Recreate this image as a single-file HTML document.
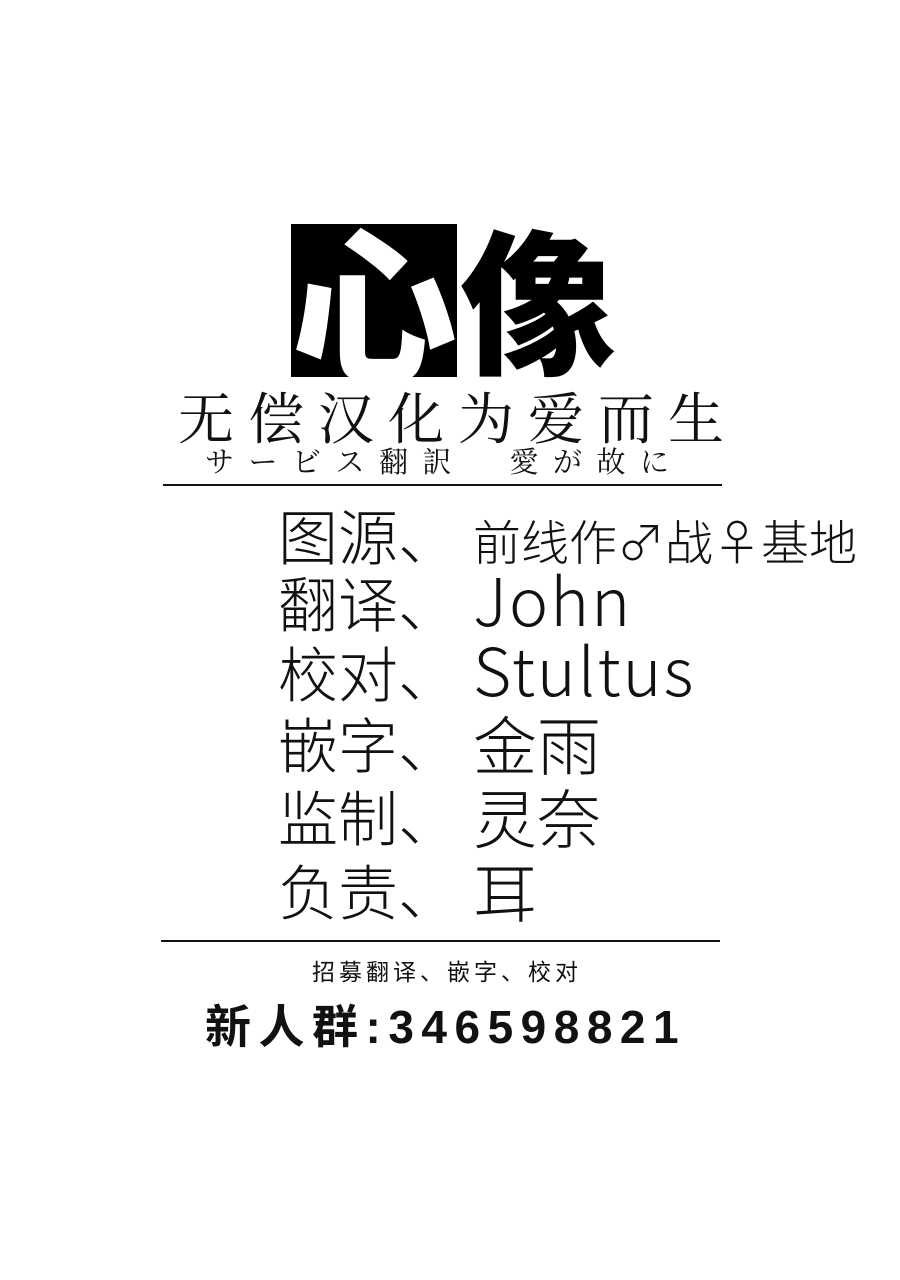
<!DOCTYPE html>
<html><head><meta charset="utf-8">
<style>
body{margin:0;width:900px;height:1280px;background:#fff;position:relative;overflow:hidden;font-family:"Liberation Sans","Noto Sans CJK SC",sans-serif;color:#111}
.a{position:absolute;white-space:nowrap;line-height:1}
.lab,.val{font-family:"Noto Sans CJK SC",sans-serif;font-weight:200;font-size:60px}
</style></head><body>
<div class="a" style="left:291px;top:224px;width:166px;height:153px;background:#000"></div>
<div class="a" style="left:291px;top:214px;font-family:'Noto Sans CJK SC',sans-serif;font-weight:900;font-size:166px;color:#fff;width:166px;height:163px;overflow:hidden">心</div>
<div class="a" style="left:460px;top:216px;font-family:'Noto Sans CJK SC',sans-serif;font-weight:900;font-size:156px;color:#000">像</div>
<div class="a" style="left:178px;top:388px;font-family:'Noto Serif CJK SC',serif;font-size:56px;letter-spacing:14px">无偿汉化为爱而生</div>
<div class="a" style="left:205px;top:446px;font-family:'Noto Serif CJK SC',serif;font-size:29px;letter-spacing:14.5px">サービス翻訳　愛が故に</div>
<div class="a" style="left:163px;top:484px;width:559px;height:2px;background:#111"></div>

<div class="a lab" style="left:278px;top:505px">图源、</div>
<div class="a val" style="left:473px;top:515px;font-size:48px">前线作♂战♀基地</div>
<div class="a lab" style="left:278px;top:572px">翻译、</div>
<div class="a val" style="left:473px;top:565px;font-size:66px;letter-spacing:2px">John</div>
<div class="a lab" style="left:278px;top:642px">校对、</div>
<div class="a val" style="left:473px;top:635px;font-size:66px;letter-spacing:2px">Stultus</div>
<div class="a lab" style="left:278px;top:713px">嵌字、</div>
<div class="a val" style="left:473px;top:711px;font-size:64px">金雨</div>
<div class="a lab" style="left:278px;top:786px">监制、</div>
<div class="a val" style="left:473px;top:784px;font-size:64px">灵奈</div>
<div class="a lab" style="left:278px;top:860px">负责、</div>
<div class="a val" style="left:473px;top:858px;font-size:64px">耳</div>

<div class="a" style="left:161px;top:940px;width:559px;height:2px;background:#111"></div>
<div class="a" style="left:312px;top:959px;font-family:'Noto Sans CJK SC',sans-serif;font-size:23px;letter-spacing:4px">招募翻译、嵌字、校对</div>
<div class="a" style="left:205px;top:1004px;font-family:'Liberation Sans','Noto Sans CJK SC',sans-serif;font-weight:bold;font-size:46px;letter-spacing:7.5px">新人群:346598821</div>
</body></html>
